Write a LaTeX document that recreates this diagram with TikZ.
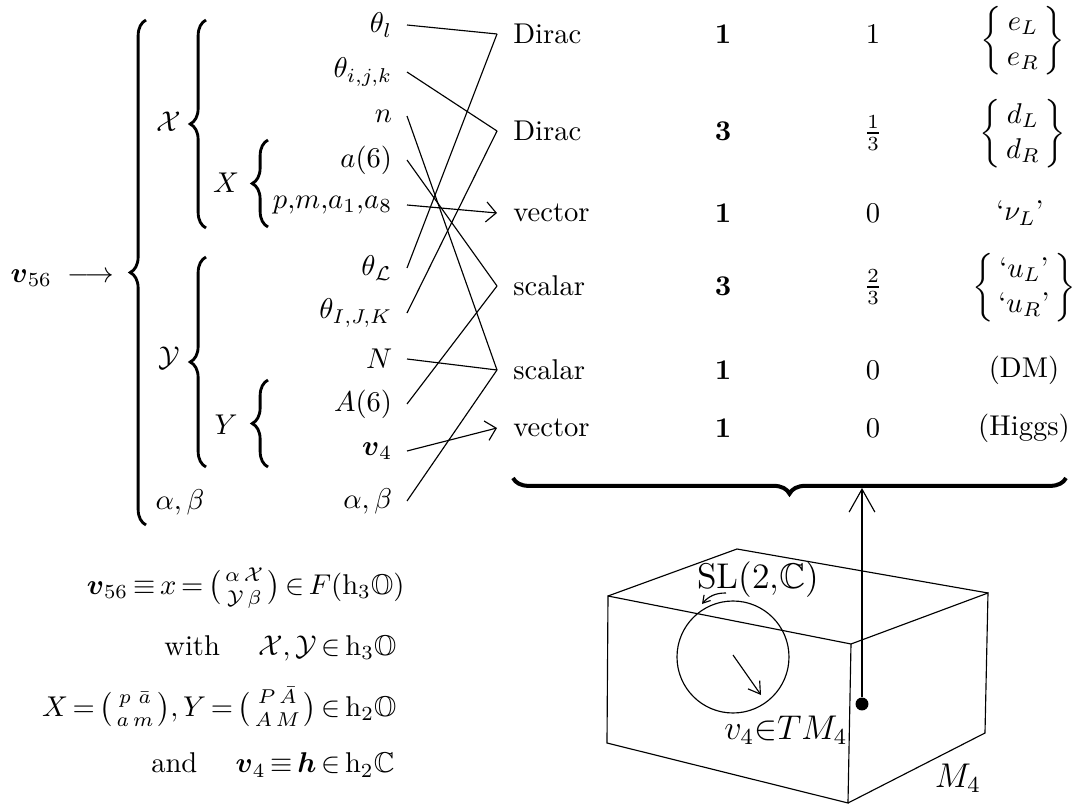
\documentclass[tikz,border=0pt]{standalone}
\usepackage{amsmath,amssymb}
\usetikzlibrary{arrows.meta,decorations.pathreplacing}

\begin{document}
\begin{tikzpicture}[x=1.229cm, y=-1.229cm, >={Straight Barb[length=3.5pt,width=7pt]},
  src/.style={anchor=east, inner xsep=5pt},
  dst/.style={anchor=west, inner xsep=5.5pt},
  brc/.style={decorate, decoration={brace, amplitude=5.5pt}, line width=1pt},
  eqn/.style={anchor=east, inner sep=0pt, execute at begin node={\thickmuskip=3mu}}]

\useasboundingbox (0,0) rectangle (10.76,8.08);

% Eingang
\node[anchor=base west, inner sep=0pt] (v56) at (0.10,2.82) {$\boldsymbol{v}_{56}\;\longrightarrow$};

% Klammern
\draw[brc] (1.46,5.25) -- (1.46,0.20);
\draw[brc] (2.06,2.28) -- (2.06,0.20);
\draw[brc] (2.68,2.27) -- (2.68,1.40);
\draw[brc] (2.06,4.67) -- (2.06,2.57);
\draw[brc] (2.68,4.67) -- (2.68,3.80);

\node (cX) at (1.69,1.22) {$\mathcal{X}$};
\node (X) at (2.26,1.83) {$X$};
\node (cY) at (1.69,3.58) {$\mathcal{Y}$};
\node (Y) at (2.26,4.25) {$Y$};
\node (ab0) at (1.80,5.02) {$\alpha,\beta$};

% Komponenten
\node[src] (tl) at (4.07,0.25) {$\theta_l$};
\node[src] (tijk) at (4.07,0.72) {$\theta_{i,j,k}$};
\node[src] (n) at (4.07,1.16) {$n$};
\node[src] (a6) at (4.07,1.60) {$a(6)$};
\node[src] (pm) at (4.07,2.05) {$p{,}m{,}a_1{,}a_8$};
\node[src] (tL) at (4.07,2.68) {$\theta_{\mathcal{L}}$};
\node[src] (tIJK) at (4.07,3.13) {$\theta_{I,J,K}$};
\node[src] (N) at (4.07,3.59) {$N$};
\node[src] (A6) at (4.07,4.04) {$A(6)$};
\node[src] (v4) at (4.07,4.51) {$\boldsymbol{v}_4$};
\node[src] (ab) at (4.07,5.01) {$\alpha,\beta$};

% Felder
\node[dst] (dirA) at (4.97,0.34) {Dirac};
\node[dst] (dirB) at (4.97,1.31) {Dirac};
\node[dst] (vecA) at (4.97,2.13) {vector};
\node[dst] (scaA) at (4.97,2.86) {scalar};
\node[dst] (scaB) at (4.97,3.70) {scalar};
\node[dst] (vecB) at (4.97,4.28) {vector};

% Zuordnung
\draw (tl.east) -- (dirA.west);
\draw (tL.east) -- (dirA.west);
\draw (tijk.east) -- (dirB.west);
\draw (tIJK.east) -- (dirB.west);
\draw[->] (pm.east) -- (vecA.west);
\draw (a6.east) -- (scaA.west);
\draw (A6.east) -- (scaA.west);
\draw (n.east) -- (scaB.west);
\draw (N.east) -- (scaB.west);
\draw (ab.east) -- (scaB.west);
\draw[->] (v4.east) -- (vecB.west);

% Tabelle
\node (d1) at (7.23,0.34) {$\mathbf{1}$};
\node (d2) at (7.23,1.31) {$\mathbf{3}$};
\node (d3) at (7.23,2.13) {$\mathbf{1}$};
\node (d4) at (7.23,2.86) {$\mathbf{3}$};
\node (d5) at (7.23,3.70) {$\mathbf{1}$};
\node (d6) at (7.23,4.28) {$\mathbf{1}$};

\node (q1) at (8.73,0.34) {$1$};
\node (q2) at (8.73,1.33) {$\frac13$};
\node (q3) at (8.73,2.13) {$0$};
\node (q4) at (8.73,2.87) {$\frac23$};
\node (q5) at (8.73,3.70) {$0$};
\node (q6) at (8.73,4.28) {$0$};

\node (p1) at (10.23,0.41) {$\biggl\{\,\begin{matrix} e_L\\ e_R \end{matrix}\,\biggr\}$};
\node (p2) at (10.23,1.34) {$\biggl\{\,\begin{matrix} d_L\\ d_R \end{matrix}\,\biggr\}$};
\node (p3) at (10.20,2.13) {$\text{`}\nu_L\text{'}$};
\node (p4) at (10.24,2.88) {$\biggl\{\,\begin{matrix} \text{`}u_L\text{'}\\ \text{`}u_R\text{'} \end{matrix}\,\biggr\}$};
\node (p5) at (10.24,3.70) {(DM)};
\node (p6) at (10.24,4.28) {(Higgs)};

% untere Klammer
\draw[brc, line width=1.4pt] (10.66,4.78) -- (5.13,4.78);
\coordinate (btip) at (8.62,4.88);

% Mannigfaltigkeit
\draw (6.08,5.96) -- (8.51,6.44) -- (8.48,8.03) -- (6.07,7.43) -- cycle;
\draw (8.51,6.44) -- (9.88,5.93) -- (9.85,7.33) -- (8.48,8.03);
\draw (6.08,5.96) -- (7.37,5.49) -- (9.88,5.93);

\draw (7.33,6.57) circle[radius=0.56];
\draw[-{Straight Barb[length=4pt,width=5pt]}] (7.33,6.55) -- (7.61,6.95);
\draw[-{Straight Barb[length=2.5pt,width=3pt]}] (7.26,5.93) to[bend right=25] (7.02,6.04);

\node (sl) at (7.58,5.80) {\fontsize{12.5}{15}\selectfont SL(2,$\mathbb{C}$)};
\node (tm) at (7.86,7.30) {\fontsize{12}{14}\selectfont ${v_4}{\in}{TM_4}$};
\node (m4) at (9.58,7.78) {\fontsize{12}{14}\selectfont $M_4$};

\node[circle, fill, inner sep=1.6pt] (pt) at (8.62,7.04) {};
\draw[-{Straight Barb[length=8pt,width=9pt]}] (pt) -- (btip);

% Gleichungen
\node[eqn] (e1) at (4.05,5.88) {$\boldsymbol{v}_{56}\equiv x=\genfrac{(}{)}{0pt}{1}{\,\alpha\;\mathcal{X}\,}{\,\mathcal{Y}\;\beta\,}\in F(\mathrm{h}_3\mathbb{O})$};
\node[eqn] (e2) at (3.97,6.48) {with $\quad\mathcal{X},\mathcal{Y}\in\mathrm{h}_3\mathbb{O}$};
\node[eqn] (e3) at (3.97,7.07) {$X=\genfrac{(}{)}{0pt}{1}{\,p\;\;\bar a\,}{\,a\;m\,},Y=\genfrac{(}{)}{0pt}{1}{\,P\;\bar A\,}{\,A\;M\,}\in\mathrm{h}_2\mathbb{O}$};
\node[eqn] (e4) at (3.95,7.65) {and $\quad\boldsymbol{v}_4\equiv\boldsymbol{h}\in\mathrm{h}_2\mathbb{C}$};

\end{tikzpicture}
\end{document}
